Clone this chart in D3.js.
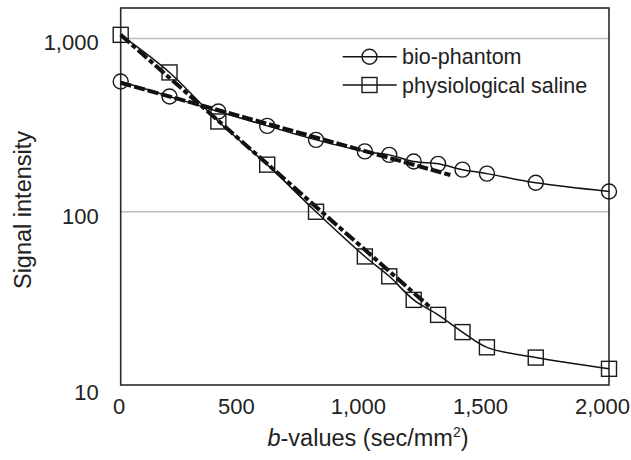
<!DOCTYPE html>
<html><head><meta charset="utf-8">
<script src="https://cdn.jsdelivr.net/npm/d3@7"></script>
<style>html,body{margin:0;padding:0;background:#fff;}svg{display:block;}</style>
</head><body><svg id="c" width="631" height="460"></svg>
<script>
// ---- data ----
const bValues = [0, 200, 400, 600, 800, 1000, 1100, 1200, 1300, 1400, 1500, 1700, 2000];
const bioPhantom = [565, 463, 379, 313, 260, 223, 213, 195, 189, 175, 166, 147, 131];
const saline = [1050, 637, 332, 187, 100, 55.2, 42.4, 31.0, 25.4, 20.2, 16.5, 14.4, 12.4];
const bioFitB = [0, 1350];
const bioFitV = [555, 163];
const salineFitB = [0, 1270];
const salineFitV = [1050, 27.9];
const xTicks = [0, 500, 1000, 1500, 2000];
const yTicks = [10, 100, 1000];
const gridValues = [100, 1000];
const seriesNames = ["bio-phantom", "physiological saline"];

// ---- layout ----
const L = 120.7, R = 609, T = 8, B = 385;
const svg = d3.select("#c");
const x = d3.scaleLinear().domain([0, 2000]).range([L, R]);
const y = d3.scaleLog().domain([10, 1500]).range([B, T]);
const fmt = d3.format(",");
const ink = "#222";
const font = "'Liberation Sans', Arial, sans-serif";

// gridlines
svg.append("g").selectAll("line").data(gridValues).join("line")
  .attr("x1", L).attr("x2", R).attr("y1", d => y(d)).attr("y2", d => y(d))
  .attr("stroke", "#bdbdbd").attr("stroke-width", 1.5);

// frame
svg.append("rect").attr("x", L).attr("y", T).attr("width", R - L).attr("height", B - T)
  .attr("fill", "none").attr("stroke", "#2a2a2a").attr("stroke-width", 1.6);

// axes (labels only)
const xAxis = svg.append("g").attr("transform", `translate(0,${B})`)
  .call(d3.axisBottom(x).tickValues(xTicks).tickFormat(fmt).tickSize(0).tickPadding(0));
xAxis.select(".domain").remove();
xAxis.selectAll("text").attr("font-family", font).attr("font-size", 22).attr("fill", ink)
  .attr("dy", null).attr("y", 29).attr("dx", d => d === 0 ? -2 : -7);

const yAxis = svg.append("g").attr("transform", `translate(${L},0)`)
  .call(d3.axisLeft(y).tickValues(yTicks).tickFormat(fmt).tickSize(0).tickPadding(0));
yAxis.select(".domain").remove();
yAxis.selectAll("text").attr("font-family", font).attr("font-size", 22).attr("fill", ink)
  .attr("x", -22).attr("dy", d => d === 10 ? "0.68em" : "0.52em");

// axis titles
const xt = svg.append("text").attr("x", 368).attr("y", 446).attr("text-anchor", "middle")
  .attr("font-family", font).attr("font-size", 23.5).attr("fill", ink);
xt.append("tspan").attr("font-style", "italic").text("b");
xt.append("tspan").text("-values (sec/mm");
xt.append("tspan").attr("font-size", 14).attr("dy", -9).text("2");
xt.append("tspan").attr("dy", 9).text(")");

svg.append("text").attr("transform", "translate(31,210) rotate(-90)").attr("text-anchor", "middle")
  .attr("font-family", font).attr("font-size", 23.5).attr("fill", ink).text("Signal intensity");

// lines
const line = d3.line().x(d => x(d[0])).y(d => y(d[1])).curve(d3.curveCatmullRom.alpha(0.5));
const straight = d3.line().x(d => x(d[0])).y(d => y(d[1]));
const bioPts = bValues.map((b, i) => [b, bioPhantom[i]]);
const salPts = bValues.map((b, i) => [b, saline[i]]);

// fit lines (thick dashed)
svg.append("path").attr("d", straight(bioFitB.map((b, i) => [b, bioFitV[i]])))
  .attr("fill", "none").attr("stroke", "#111").attr("stroke-width", 4).attr("stroke-dasharray", "11,3");
svg.append("path").attr("d", straight(salineFitB.map((b, i) => [b, salineFitV[i]])))
  .attr("fill", "none").attr("stroke", "#111").attr("stroke-width", 4).attr("stroke-dasharray", "12,3,5,3");

svg.append("path").attr("d", line(bioPts)).attr("fill", "none").attr("stroke", "#111").attr("stroke-width", 1.5);
svg.append("path").attr("d", line(salPts)).attr("fill", "none").attr("stroke", "#111").attr("stroke-width", 1.5);

// markers
svg.append("g").selectAll("circle").data(bioPts).join("circle")
  .attr("cx", d => x(d[0])).attr("cy", d => y(d[1])).attr("r", 7.5)
  .attr("fill", "none").attr("stroke", "#1a1a1a").attr("stroke-width", 1.4);
svg.append("g").selectAll("rect").data(salPts).join("rect")
  .attr("x", d => x(d[0]) - 7.5).attr("y", d => y(d[1]) - 7.5).attr("width", 15).attr("height", 15)
  .attr("fill", "none").attr("stroke", "#1a1a1a").attr("stroke-width", 1.4);

// legend
const lg = svg.append("g");
const rows = [{name: seriesNames[0], y: 56.7, shape: "circle"}, {name: seriesNames[1], y: 85, shape: "square"}];
rows.forEach(r => {
  lg.append("line").attr("x1", 342.7).attr("x2", 396.7).attr("y1", r.y).attr("y2", r.y)
    .attr("stroke", "#111").attr("stroke-width", 1.5);
  if (r.shape === "circle") {
    lg.append("circle").attr("cx", 369.5).attr("cy", r.y).attr("r", 7.5)
      .attr("fill", "none").attr("stroke", "#1a1a1a").attr("stroke-width", 1.4);
  } else {
    lg.append("rect").attr("x", 362).attr("y", r.y - 7.5).attr("width", 15).attr("height", 15)
      .attr("fill", "none").attr("stroke", "#1a1a1a").attr("stroke-width", 1.4);
  }
  lg.append("text").attr("x", 402).attr("y", r.y + 7.5).attr("font-family", font)
    .attr("font-size", 21.5).attr("fill", ink).text(r.name);
});
</script></body></html>
